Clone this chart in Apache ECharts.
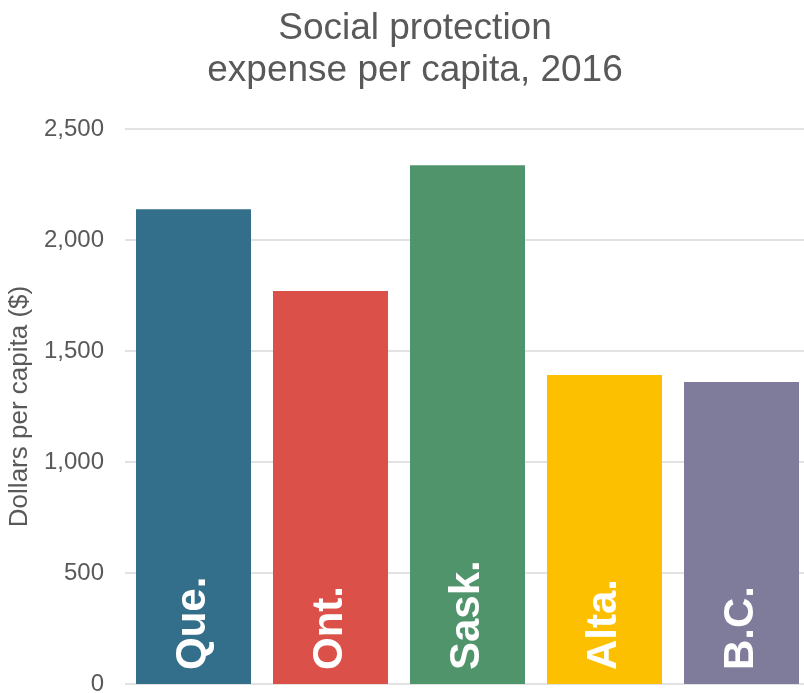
<!DOCTYPE html>
<html>
<head>
<meta charset="utf-8">
<script src="https://cdn.jsdelivr.net/npm/echarts@6/dist/echarts.min.js"></script>
<style>
html,body{margin:0;padding:0;background:#fff;}
#chart{width:804px;height:693px;}
</style>
</head>
<body>
<div id="chart"></div>
<script>
const categories = ['Que.', 'Ont.', 'Sask.', 'Alta.', 'B.C.'];
const values = [2139, 1770, 2337, 1392, 1360];
const barColors = ['#336E8A', '#DB5048', '#50946B', '#FCC000', '#7F7B9A'];
const yTicks = [0, 500, 1000, 1500, 2000, 2500];

const chart = echarts.init(document.getElementById('chart'), null, {renderer: 'canvas'});
const font = 'Liberation Sans, Arial, sans-serif';
chart.setOption({
  animation: false,
  title: {
    text: 'Social protection\nexpense per capita, 2016',
    left: 410,
    top: 3,
    textAlign: 'center',
    textStyle: {
      fontFamily: font,
      fontSize: 37,
      fontWeight: 'normal',
      color: '#595959',
      lineHeight: 42
    }
  },
  grid: {left: 125, top: 129, right: -6, height: 555, containLabel: false, outerBoundsMode: 'none'},
  xAxis: {
    type: 'category',
    data: categories,
    axisLine: {show: false},
    axisTick: {show: false},
    axisLabel: {show: false}
  },
  yAxis: {
    type: 'value',
    min: yTicks[0],
    max: yTicks[yTicks.length - 1],
    interval: 500,
    name: 'Dollars per capita ($)',
    nameLocation: 'middle',
    nameGap: 88,
    nameTextStyle: {fontFamily: font, fontSize: 26, color: '#595959'},
    axisLine: {show: false},
    axisTick: {show: false},
    axisLabel: {
      fontFamily: font,
      fontSize: 24,
      color: '#595959',
      margin: 21,
      formatter: v => v.toLocaleString('en-US')
    },
    splitLine: {lineStyle: {color: '#D9D9D9', width: 1.5}}
  },
  series: [{
    type: 'bar',
    data: values.map((v, i) => ({value: v, itemStyle: {color: barColors[i]}})),
    barWidth: 115,
    label: {
      show: true,
      position: 'insideBottom',
      rotate: 90,
      align: 'left',
      verticalAlign: 'middle',
      distance: 14,
      formatter: p => categories[p.dataIndex],
      fontFamily: font,
      fontSize: 42,
      fontWeight: 'bold',
      color: '#ffffff'
    }
  }]
});
</script>
</body>
</html>
